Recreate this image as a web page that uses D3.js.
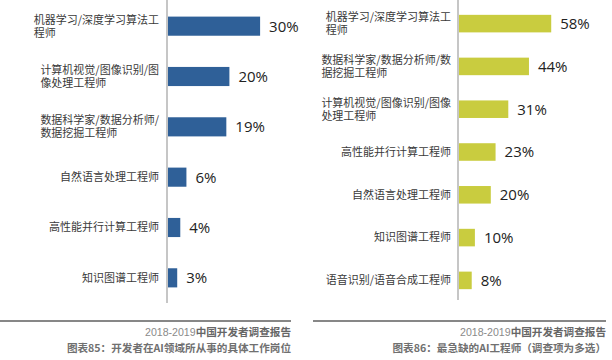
<!DOCTYPE html>
<html>
<head>
<meta charset="utf-8">
<script src="https://cdn.jsdelivr.net/npm/d3@7"></script>
<style>
  body { margin: 0; background: #fff; }
  svg { display: block; font-family: "Noto Sans CJK SC", "Noto Sans", sans-serif; }
</style>
</head>
<body>
<div id="viz"></div>
<script>
// left chart: current job
const leftCats = [
  ["机器学习/深度学习算法工", "程师"],
  ["计算机视觉/图像识别/图", "像处理工程师"],
  ["数据科学家/数据分析师/", "数据挖掘工程师"],
  ["自然语言处理工程师"],
  ["高性能并行计算工程师"],
  ["知识图谱工程师"]
]
const leftValues = [30, 20, 19, 6, 4, 3]

// right chart: most wanted
const rightCats = [
  ["机器学习/深度学习算法工", "程师"],
  ["数据科学家/数据分析师/数", "据挖掘工程师"],
  ["计算机视觉/图像识别/图像", "处理工程师"],
  ["高性能并行计算工程师"],
  ["自然语言处理工程师"],
  ["知识图谱工程师"],
  ["语音识别/语音合成工程师"]
]
const rightValues = [58, 44, 31, 23, 20, 10, 8]

const sourceText = ["2018-2019", "中国开发者调查报告"]
const leftTitle = "图表85：开发者在AI领域所从事的具体工作岗位"
const rightTitle = "图表86：最急缺的AI工程师（调查项为多选）"

const width = 612
const height = 360

const svg = d3.select("#viz").append("svg")
    .attr("width", width)
    .attr("height", height)

function drawPanel(opt) {
    const g = svg.append("g")

    const y = d3.scaleBand()
        .domain(d3.range(opt.values.length))
        .range(opt.yRange)
        .paddingInner(opt.padIn)
        .paddingOuter(opt.padOut)

    const x = d3.scaleLinear()
        .domain([0, 100])
        .range([opt.axisX, opt.axisX + opt.pxPer100])

    // bars
    g.selectAll("rect")
        .data(opt.values)
        .enter()
        .append("rect")
        .attr("x", x(0) + 1)
        .attr("y", (d, i) => y(i))
        .attr("width", d => x(d) - x(0))
        .attr("height", y.bandwidth())
        .attr("fill", opt.color)

    // axis line
    g.append("line")
        .attr("x1", opt.axisX).attr("x2", opt.axisX)
        .attr("y1", 0).attr("y2", opt.axisBottom)
        .attr("stroke", "#a0a0a0")
        .attr("stroke-width", 1.2)

    // value labels
    g.selectAll(".val")
        .data(opt.values)
        .enter()
        .append("text")
        .attr("class", "val")
        .attr("x", d => x(d) + 10)
        .attr("y", (d, i) => y(i) + y.bandwidth() / 2)
        .attr("dy", "0.36em")
        .attr("font-family", "Open Sans")
        .attr("font-size", 15)
        .attr("fill", "#222")
        .text(d => d + "%")

    // category labels, block right-aligned, lines left-aligned
    const lineH = 13
    g.selectAll(".cat")
        .data(opt.cats)
        .enter()
        .append("text")
        .attr("class", "cat")
        .attr("font-size", 11)
        .attr("fill", "#3a3a3a")
        .each(function (lines, i) {
            const t = d3.select(this)
            const cy = y(i) + y.bandwidth() / 2
            const top = cy - (lines.length - 1) * lineH / 2
            lines.forEach((s, k) => {
                t.append("tspan")
                    .attr("x", 0)
                    .attr("y", top + k * lineH)
                    .attr("dy", "0.35em")
                    .text(s)
            })
            let w = 0
            t.selectAll("tspan").each(function () {
                w = Math.max(w, this.getComputedTextLength())
            })
            t.selectAll("tspan").attr("x", opt.labelRight - w)
        })

    // footer rule and texts
    g.append("line")
        .attr("x1", opt.ruleX[0]).attr("x2", opt.ruleX[1])
        .attr("y1", 321).attr("y2", 321)
        .attr("stroke", "#111")
        .attr("stroke-width", 1.2)

    const src = g.append("text")
        .attr("x", opt.ruleX[1])
        .attr("y", 332)
        .attr("dy", "0.35em")
        .attr("text-anchor", "end")
        .attr("font-size", 10.6)
    src.append("tspan").attr("fill", "#8a8a8a").attr("font-family", "Liberation Sans").text(sourceText[0])
    src.append("tspan").attr("fill", "#666").attr("font-weight", "bold").text(sourceText[1])

    g.append("text")
        .attr("x", opt.ruleX[1])
        .attr("y", 348)
        .attr("dy", "0.35em")
        .attr("text-anchor", "end")
        .attr("font-size", 10.6)
        .attr("font-weight", "bold")
        .attr("fill", "#707070")
        .text(opt.title)
}

drawPanel({
    cats: leftCats, values: leftValues, color: "#2f6098",
    axisX: 167, axisBottom: 303, pxPer100: 307,
    yRange: [1, 303], padIn: 0.62, padOut: 0.31,
    labelRight: 159, ruleX: [0, 291], title: leftTitle
})

drawPanel({
    cats: rightCats, values: rightValues, color: "#c9cc3f",
    axisX: 458, axisBottom: 300, pxPer100: 159,
    yRange: [2, 302], padIn: 0.59, padOut: 0.3,
    labelRight: 451, ruleX: [313, 606], title: rightTitle
})
</script>
</body>
</html>
